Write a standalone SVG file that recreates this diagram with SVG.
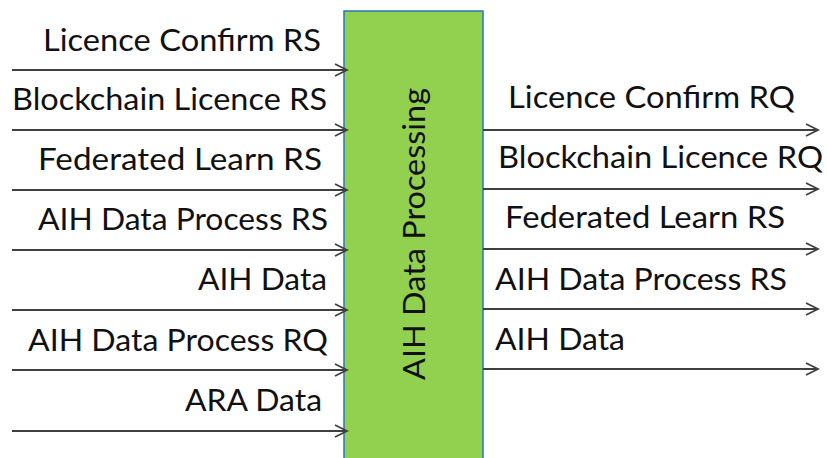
<svg xmlns="http://www.w3.org/2000/svg" width="827" height="458" viewBox="0 0 827 458">
<style>
text{font-family:Lato,"Noto Sans","Liberation Sans",sans-serif;font-size:31px;fill:#111;}
.ln{stroke:#404040;stroke-width:2;fill:none;marker-end:url(#ah);}
</style>
<defs>
<marker id="ah" markerUnits="userSpaceOnUse" markerWidth="16" markerHeight="16" refX="13" refY="7" orient="auto">
<path d="M1,1 L13,7 L1,13" fill="none" stroke="#404040" stroke-width="1.8"/>
</marker>
</defs>
<rect width="827" height="458" fill="#fff"/>
<g id="proc">
<rect x="344" y="11" width="139" height="460" fill="#92D050" stroke="#2E75B6" stroke-width="1.5"/>
<text transform="translate(425,380) rotate(-90)" textLength="292" lengthAdjust="spacingAndGlyphs">AIH Data Processing</text>
</g>
<g id="connectors">
<line class="ln" x1="12" y1="70" x2="347" y2="70"/>
<line class="ln" x1="12" y1="130" x2="347" y2="130"/>
<line class="ln" x1="12" y1="190" x2="347" y2="190"/>
<line class="ln" x1="12" y1="250" x2="347" y2="250"/>
<line class="ln" x1="12" y1="310" x2="347" y2="310"/>
<line class="ln" x1="12" y1="370" x2="347" y2="370"/>
<line class="ln" x1="12" y1="431" x2="347" y2="431"/>
<line class="ln" x1="483" y1="130" x2="818" y2="130"/>
<line class="ln" x1="483" y1="189" x2="818" y2="189"/>
<line class="ln" x1="483" y1="249" x2="818" y2="249"/>
<line class="ln" x1="483" y1="309" x2="818" y2="309"/>
<line class="ln" x1="483" y1="369" x2="818" y2="369"/>
</g>
<g id="labels">
<text x="43" y="51" textLength="278" lengthAdjust="spacingAndGlyphs">Licence Confirm RS</text>
<text x="12" y="110" textLength="315" lengthAdjust="spacingAndGlyphs">Blockchain Licence RS</text>
<text x="38" y="170" textLength="284" lengthAdjust="spacingAndGlyphs">Federated Learn RS</text>
<text x="38" y="230" textLength="290" lengthAdjust="spacingAndGlyphs">AIH Data Process RS</text>
<text x="198" y="290" textLength="129" lengthAdjust="spacingAndGlyphs">AIH Data</text>
<text x="28" y="351" textLength="300" lengthAdjust="spacingAndGlyphs">AIH Data Process RQ</text>
<text x="185" y="411" textLength="137" lengthAdjust="spacingAndGlyphs">ARA Data</text>
<text x="508" y="108" textLength="287" lengthAdjust="spacingAndGlyphs">Licence Confirm RQ</text>
<text x="498" y="168" textLength="325" lengthAdjust="spacingAndGlyphs">Blockchain Licence RQ</text>
<text x="505" y="228" textLength="280" lengthAdjust="spacingAndGlyphs">Federated Learn RS</text>
<text x="495" y="290" textLength="292" lengthAdjust="spacingAndGlyphs">AIH Data Process RS</text>
<text x="495" y="350" textLength="130" lengthAdjust="spacingAndGlyphs">AIH Data</text>
</g>
</svg>
